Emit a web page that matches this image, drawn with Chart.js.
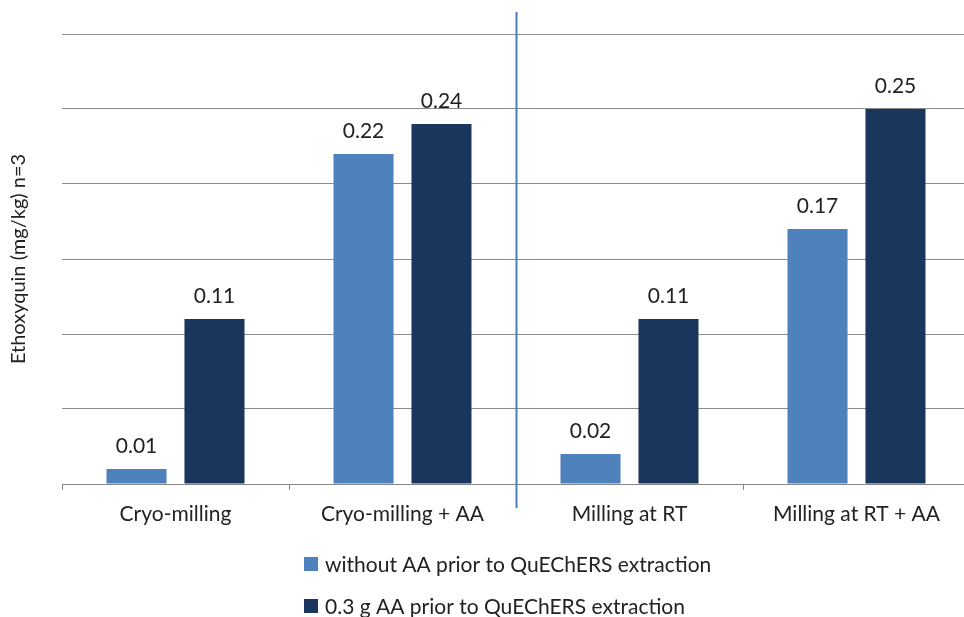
<!DOCTYPE html>
<html>
<head>
<meta charset="utf-8">
<title>Ethoxyquin</title>
<script src="https://cdn.jsdelivr.net/npm/chart.js@4/dist/chart.umd.min.js"></script>
<style>
  html, body { margin: 0; padding: 0; background: #fff; overflow: hidden; }
  #wrap { width: 976px; height: 617px; }
</style>
</head>
<body>
<div id="wrap"><canvas id="eq-chart" width="976" height="617"></canvas></div>
<script>
const categories = ['Cryo-milling', 'Cryo-milling + AA', 'Milling at RT', 'Milling at RT + AA'];
const seriesNames = ['without AA prior to QuEChERS extraction', '0.3 g AA prior to QuEChERS extraction'];
const withoutAA = [0.01, 0.22, 0.02, 0.17];
const withAA = [0.11, 0.24, 0.11, 0.25];
const yTicks = [0, 0.05, 0.10, 0.15, 0.20, 0.25, 0.30];

const FONT = 'Lato, "Open Sans", sans-serif';
const TEXT = '#222';

// value above each bar
const barValues = {
    id: 'barValues',
    afterDatasetsDraw(chart) {
        const ctx = chart.ctx;
        ctx.save();
        ctx.font = '21px ' + FONT;
        ctx.fillStyle = TEXT;
        ctx.textAlign = 'center';
        ctx.textBaseline = 'middle';
        chart.data.datasets.forEach((ds, i) => {
            chart.getDatasetMeta(i).data.forEach((bar, j) => {
                ctx.fillText(ds.data[j].toFixed(2), bar.x, bar.y - 23);
            });
        });
        ctx.restore();
    }
};

// vertical separator between the cryo and room-temperature groups
const groupDivider = {
    id: 'groupDivider',
    afterDatasetsDraw(chart) {
        const x = chart.scales.x;
        const px = Math.round((x.getPixelForValue(1) + x.getPixelForValue(2)) / 2) + 0.5;
        const ctx = chart.ctx;
        ctx.save();
        ctx.strokeStyle = '#4a7ebb';
        ctx.lineWidth = 2;
        ctx.beginPath();
        ctx.moveTo(px, chart.chartArea.top - 22);
        ctx.lineTo(px, chart.chartArea.bottom + 24);
        ctx.stroke();
        ctx.restore();
    }
};

// legend entries stacked one per line
const stackedLegend = {
    id: 'stackedLegend',
    afterDraw(chart) {
        const ctx = chart.ctx;
        const left = chart.chartArea.left + 242;
        const top = chart.chartArea.bottom + 80;
        ctx.save();
        ctx.font = '21px ' + FONT;
        ctx.textBaseline = 'middle';
        chart.data.datasets.forEach((ds, i) => {
            const y = top + i * 42;
            ctx.fillStyle = ds.backgroundColor;
            ctx.fillRect(left, y - 7, 14, 14);
            ctx.fillStyle = TEXT;
            ctx.fillText(ds.label, left + 21, y + 1);
        });
        ctx.restore();
    }
};

function initChart() {
    const ctx = document.getElementById('eq-chart').getContext('2d');
    new Chart(ctx, {
        type: 'bar',
        data: {
            labels: categories,
            datasets: [{
                label: seriesNames[0],
                data: withoutAA,
                backgroundColor: '#4f81bd'
            }, {
                label: seriesNames[1],
                data: withAA,
                backgroundColor: '#1a365d'
            }]
        },
        options: {
            responsive: false,
            animation: false,
            categoryPercentage: 0.687,
            barPercentage: 0.77,
            layout: {
                padding: { top: 34, right: 6, left: 2, bottom: 0 }
            },
            plugins: {
                legend: { display: false },
                tooltip: { enabled: false }
            },
            scales: {
                x: {
                    grid: {
                        offset: true,
                        drawOnChartArea: false,
                        drawTicks: true,
                        tickLength: 6,
                        color: '#868686'
                    },
                    border: { color: '#868686' },
                    ticks: {
                        color: TEXT,
                        font: { family: FONT, size: 21 },
                        padding: 12
                    },
                    afterFit(scale) { scale.height = 133; }
                },
                y: {
                    min: 0,
                    max: 0.3,
                    afterBuildTicks(scale) {
                        scale.ticks = yTicks.map(v => ({ value: v }));
                    },
                    grid: { color: '#8c8c8c', drawTicks: false },
                    border: { display: false },
                    ticks: { display: false },
                    title: {
                        display: true,
                        text: 'Ethoxyquin (mg/kg) n=3',
                        color: TEXT,
                        font: { family: FONT, size: 20 },
                        padding: { top: 5, bottom: 4 }
                    },
                    afterFit(scale) { scale.width = 60; }
                }
            }
        },
        plugins: [barValues, groupDivider, stackedLegend]
    });
}

document.addEventListener('DOMContentLoaded', () => {
    initChart();
});
</script>
</body>
</html>
